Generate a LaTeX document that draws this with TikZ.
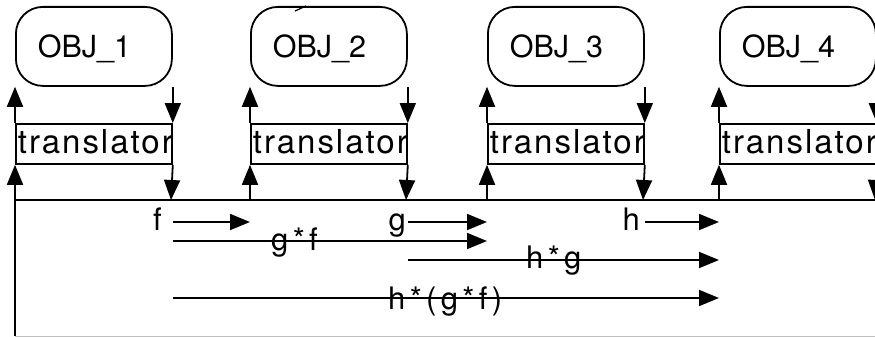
\documentclass[tikz,border=0pt]{standalone}
\usepackage{fontspec}
\setmainfont{TeX Gyre Heros}
\newfontfamily\spacedfont[LetterSpace=6]{TeX Gyre Heros}
\newfontfamily\labelfont[LetterSpace=14]{TeX Gyre Heros}
\usetikzlibrary{arrows.meta}

\begin{document}
\begin{tikzpicture}[x=1pt,y=-1pt,
  line/.style={line width=1.8pt},
  arr/.style={line width=1.8pt,-{Triangle[length=20pt,width=16pt]}},
  objbox/.style={draw,line width=1.8pt,rounded corners=27pt,
    minimum width=156pt,minimum height=79pt,inner xsep=22pt,inner ysep=0pt,
    text width=112pt,text height=22pt,text depth=0pt,align=left,anchor=north west,
    font=\fontsize{30.5}{36}\selectfont},
  trbox/.style={draw,line width=1.8pt,minimum width=156pt,minimum height=40pt,
    inner xsep=2pt,inner ysep=0pt,text width=152pt,text height=20pt,text depth=0pt,
    align=left,anchor=north west,font=\spacedfont\fontsize{33}{38}\selectfont},
  lab/.style={inner sep=0pt,font=\fontsize{31}{36}\selectfont},
  oplab/.style={inner sep=0pt,font=\labelfont\fontsize{31}{36}\selectfont}]

\useasboundingbox (0,0) rectangle (875,337);
\clip (0,0) rectangle (875,337);

% objects with their translators, wired to the shared bus
\foreach \i/\x in {1/15,2/250,3/487,4/719}{
  \node[objbox] (obj\i) at (\x,6) {OBJ\_\i};
  \node[trbox] (tr\i) at (\x,123) {translator};
  \coordinate (busl\i) at (\x,200);
  \coordinate (busr\i) at (\x+156,200);
  \draw[arr] (busl\i) -- (tr\i.south west);
  \draw[arr] (tr\i.north west) -- (obj\i.south west);
  \draw[arr] (obj\i.south east) -- (tr\i.north east);
  \draw[arr] (tr\i.south east) -- (busr\i);
}

% small stroke on top of OBJ_2
\draw[line width=1.2pt] (295,11) -- (306,6);

% bus and frame
\coordinate (busend) at (875,200);
\coordinate (frameBL) at (15,336);
\coordinate (frameBR) at (875,336);
\draw[line] (busl1) -- (busend);
\draw[line] (busl1) -- (frameBL);
\draw[line width=1pt,black!25] (frameBL) -- (frameBR);

% rows of the morphism arrows
\coordinate (rf) at (0,222);
\coordinate (rgf) at (0,241);
\coordinate (rhg) at (0,260);
\coordinate (rhgf) at (0,298);

\draw[arr] (tr1.east |- rf) -- (tr2.west |- rf);
\draw[arr] (tr2.east |- rf) -- (tr3.west |- rf);
\draw[arr] (tr3.east |- rf) -- (tr4.west |- rf);
\draw[arr] (tr1.east |- rgf) -- (tr3.west |- rgf);
\draw[arr] (tr2.east |- rhg) -- (tr4.west |- rhg);
\draw[arr] (tr1.east |- rhgf) -- (tr4.west |- rhgf);

\node[lab,anchor=base east] (lf) at (162,230) {f};
\node[lab,anchor=base east] (lg) at (406,230) {g};
\node[lab,anchor=base east] (lh) at (640,230) {h};
\node[oplab,anchor=base west] (lgf) at (271,250) {g*f};
\node[oplab,anchor=base west] (lhg) at (526,268) {h*g};
\node[oplab,anchor=base west] (lhgf) at (388,309) {h*(g*f)};
\end{tikzpicture}
\end{document}
